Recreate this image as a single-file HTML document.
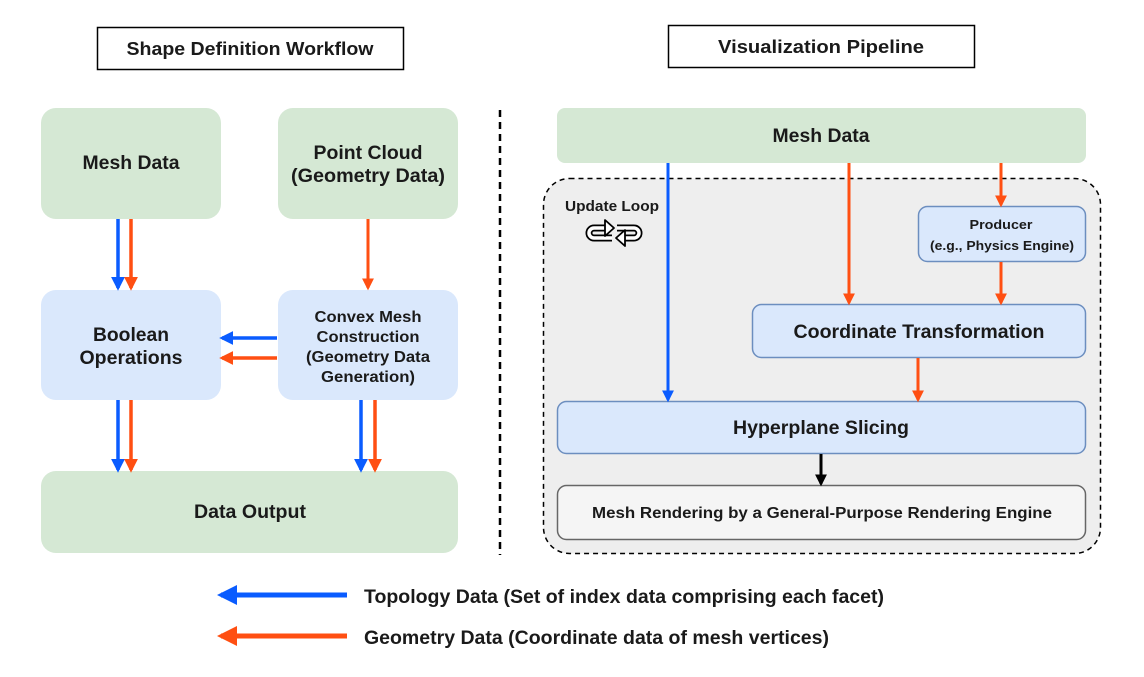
<!DOCTYPE html>
<html><head><meta charset="utf-8"><style>
html,body{margin:0;padding:0;background:#fff;}
svg{display:block;}
text{font-family:"Liberation Sans",Arial,sans-serif;font-weight:bold;fill:#1a1a1a;text-anchor:middle;}
</style></head><body>
<svg width="1144" height="677" viewBox="0 0 1144 677" xmlns="http://www.w3.org/2000/svg">
<defs>
<marker id="ab" markerWidth="4" markerHeight="4" refX="3.2" refY="2" orient="auto" markerUnits="strokeWidth"><path d="M0,0 L4,2 L0,4 Z" fill="#0a5cff"/></marker>
<marker id="ao" markerWidth="4" markerHeight="4" refX="3.2" refY="2" orient="auto" markerUnits="strokeWidth"><path d="M0,0 L4,2 L0,4 Z" fill="#ff4f12"/></marker>
<marker id="ak" markerWidth="4" markerHeight="4" refX="3.2" refY="2" orient="auto" markerUnits="strokeWidth"><path d="M0,0 L4,2 L0,4 Z" fill="#000"/></marker>
</defs>
<rect x="97.5" y="27.5" width="306" height="42" fill="#fff" stroke="#000" stroke-width="1.5"/>
<text x="250" y="55" font-size="18" textLength="247" lengthAdjust="spacingAndGlyphs">Shape Definition Workflow</text>
<rect x="668.5" y="25.5" width="306" height="42" fill="#fff" stroke="#000" stroke-width="1.5"/>
<text x="821" y="53" font-size="18" textLength="206" lengthAdjust="spacingAndGlyphs">Visualization Pipeline</text>
<line x1="500" y1="110" x2="500" y2="555" stroke="#000" stroke-width="2.5" stroke-dasharray="7,5"/>
<rect x="41" y="108" width="180" height="111" rx="15" fill="#d5e8d4"/>
<text x="131" y="169" font-size="19" textLength="97" lengthAdjust="spacingAndGlyphs">Mesh Data</text>
<rect x="278" y="108" width="180" height="111" rx="15" fill="#d5e8d4"/>
<text x="368" y="159" font-size="19" textLength="109" lengthAdjust="spacingAndGlyphs">Point Cloud</text>
<text x="368" y="182" font-size="19" textLength="154" lengthAdjust="spacingAndGlyphs">(Geometry Data)</text>
<rect x="41" y="290" width="180" height="110" rx="15" fill="#dae8fc"/>
<text x="131" y="341" font-size="19" textLength="76" lengthAdjust="spacingAndGlyphs">Boolean</text>
<text x="131" y="364" font-size="19" textLength="103" lengthAdjust="spacingAndGlyphs">Operations</text>
<rect x="278" y="290" width="180" height="110" rx="15" fill="#dae8fc"/>
<text x="368" y="322" font-size="15.5" textLength="107" lengthAdjust="spacingAndGlyphs">Convex Mesh</text>
<text x="368" y="342" font-size="15.5" textLength="103" lengthAdjust="spacingAndGlyphs">Construction</text>
<text x="368" y="362" font-size="15.5" textLength="124" lengthAdjust="spacingAndGlyphs">(Geometry Data</text>
<text x="368" y="382" font-size="15.5" textLength="94" lengthAdjust="spacingAndGlyphs">Generation)</text>
<rect x="41" y="471" width="417" height="82" rx="15" fill="#d5e8d4"/>
<text x="250" y="518" font-size="19" textLength="112" lengthAdjust="spacingAndGlyphs">Data Output</text>
<line x1="118" y1="219" x2="118" y2="288" stroke="#0a5cff" stroke-width="3.5" marker-end="url(#ab)"/>
<line x1="131" y1="219" x2="131" y2="288" stroke="#ff4f12" stroke-width="3.5" marker-end="url(#ao)"/>
<line x1="368" y1="219" x2="368" y2="288" stroke="#ff4f12" stroke-width="3" marker-end="url(#ao)"/>
<line x1="277" y1="338" x2="222" y2="338" stroke="#0a5cff" stroke-width="3.5" marker-end="url(#ab)"/>
<line x1="277" y1="358" x2="222" y2="358" stroke="#ff4f12" stroke-width="3.5" marker-end="url(#ao)"/>
<line x1="118" y1="400" x2="118" y2="470" stroke="#0a5cff" stroke-width="3.5" marker-end="url(#ab)"/>
<line x1="131" y1="400" x2="131" y2="470" stroke="#ff4f12" stroke-width="3.5" marker-end="url(#ao)"/>
<line x1="361" y1="400" x2="361" y2="470" stroke="#0a5cff" stroke-width="3.5" marker-end="url(#ab)"/>
<line x1="375" y1="400" x2="375" y2="470" stroke="#ff4f12" stroke-width="3.5" marker-end="url(#ao)"/>
<rect x="543.5" y="178.5" width="557" height="375" rx="26" fill="#eeeeee" stroke="#000" stroke-width="1.5" stroke-dasharray="5,4"/>
<rect x="557" y="108" width="529" height="55" rx="8" fill="#d5e8d4"/>
<text x="821" y="142" font-size="19" textLength="97" lengthAdjust="spacingAndGlyphs">Mesh Data</text>
<text x="612" y="211" font-size="14.5" textLength="94" lengthAdjust="spacingAndGlyphs">Update Loop</text>
<g stroke-linejoin="round" stroke-linecap="butt">
<path d="M612,238 L594,238 A5,5 0 0 1 594,228 L606,228" fill="none" stroke="#000" stroke-width="7"/>
<path d="M612,238 L594,238 A5,5 0 0 1 594,228 L607,228" fill="none" stroke="#fff" stroke-width="3.5"/>
<path d="M605,220 L614,228 L605,236 Z" fill="#fff" stroke="#000" stroke-width="1.8"/>
<path d="M617,228 L634,228 A5,5 0 0 1 634,238 L624,238" fill="none" stroke="#000" stroke-width="7"/>
<path d="M617,228 L634,228 A5,5 0 0 1 634,238 L623,238" fill="none" stroke="#fff" stroke-width="3.5"/>
<path d="M625,230 L616,238 L625,246 Z" fill="#fff" stroke="#000" stroke-width="1.8"/>
</g>
<rect x="918.5" y="206.5" width="167" height="55" rx="9" fill="#dae8fc" stroke="#6c8ebf" stroke-width="1.5"/>
<text x="1001" y="229" font-size="13" textLength="63" lengthAdjust="spacingAndGlyphs">Producer</text>
<text x="1002" y="250" font-size="13" textLength="144" lengthAdjust="spacingAndGlyphs">(e.g., Physics Engine)</text>
<rect x="752.5" y="304.5" width="333" height="53" rx="9" fill="#dae8fc" stroke="#6c8ebf" stroke-width="1.5"/>
<text x="919" y="338" font-size="19" textLength="251" lengthAdjust="spacingAndGlyphs">Coordinate Transformation</text>
<rect x="557.5" y="401.5" width="528" height="52" rx="9" fill="#dae8fc" stroke="#6c8ebf" stroke-width="1.5"/>
<text x="821" y="434" font-size="19" textLength="176" lengthAdjust="spacingAndGlyphs">Hyperplane Slicing</text>
<rect x="557.5" y="485.5" width="528" height="54" rx="9" fill="#f5f5f5" stroke="#666" stroke-width="1.5"/>
<text x="822" y="518" font-size="15.5" textLength="460" lengthAdjust="spacingAndGlyphs">Mesh Rendering by a General-Purpose Rendering Engine</text>
<line x1="668" y1="163" x2="668" y2="400" stroke="#0a5cff" stroke-width="3" marker-end="url(#ab)"/>
<line x1="849" y1="163" x2="849" y2="303" stroke="#ff4f12" stroke-width="3" marker-end="url(#ao)"/>
<line x1="1001" y1="163" x2="1001" y2="205" stroke="#ff4f12" stroke-width="3" marker-end="url(#ao)"/>
<line x1="1001" y1="262" x2="1001" y2="303" stroke="#ff4f12" stroke-width="3" marker-end="url(#ao)"/>
<line x1="918" y1="358" x2="918" y2="400" stroke="#ff4f12" stroke-width="3" marker-end="url(#ao)"/>
<line x1="821" y1="454" x2="821" y2="484" stroke="#000" stroke-width="3" marker-end="url(#ak)"/>
<line x1="347" y1="595" x2="221" y2="595" stroke="#0a5cff" stroke-width="5" marker-end="url(#ab)"/>
<line x1="347" y1="636" x2="221" y2="636" stroke="#ff4f12" stroke-width="5" marker-end="url(#ao)"/>
<text x="364" y="603" font-size="19" style="text-anchor:start" textLength="520" lengthAdjust="spacingAndGlyphs">Topology Data (Set of index data comprising each facet)</text>
<text x="364" y="644" font-size="19" style="text-anchor:start" textLength="465" lengthAdjust="spacingAndGlyphs">Geometry Data (Coordinate data of mesh vertices)</text>
</svg>
</body></html>
